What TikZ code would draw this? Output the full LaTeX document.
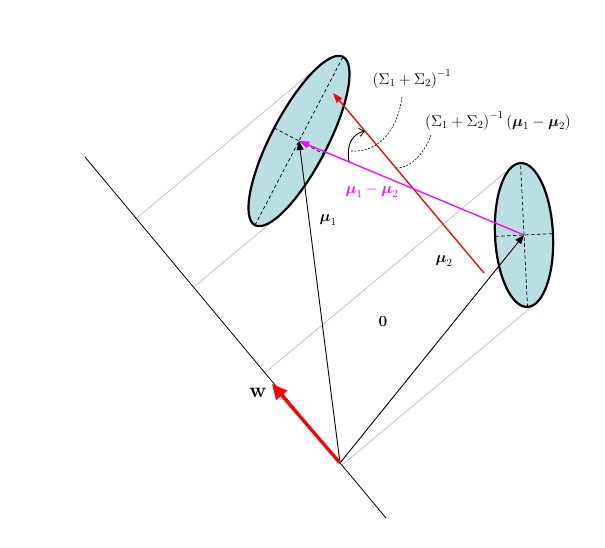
\RequirePackage{fix-cm}
\documentclass[tikz,border=0pt]{standalone}
\usepackage{amsmath}
\usetikzlibrary{arrows.meta,calc}
\definecolor{ellfill}{RGB}{185,223,227}
\definecolor{mag}{RGB}{255,0,255}
\definecolor{projgray}{RGB}{195,195,195}
\tikzset{
  ellbody/.style={draw=black, line width=2.2pt, fill=ellfill},
  ellaxis/.style={line width=0.7pt, dash pattern=on 3.5pt off 2.5pt},
  projline/.style={draw=projgray, line width=0.8pt},
  axisline/.style={line width=0.8pt},
  vecarrow/.style={line width=0.9pt, -{Triangle[length=9pt,width=7pt]}},
  lab/.style={font=\fontsize{15.5}{18}\selectfont, inner sep=0pt},
  leader/.style={line width=0.6pt, dash pattern=on 2pt off 1.5pt},
}
\begin{document}
\begin{tikzpicture}[x=1pt,y=-1pt]
\useasboundingbox (0,0) rectangle (605,548);
% key points
\coordinate (O) at (340,463);
\coordinate (A1) at (85,157);
\coordinate (A2) at (386,518);
\coordinate (M1) at (299,141);
\coordinate (M2) at (524,235);
% tangent points of the projection lines
\coordinate (T1a) at (320.6,64.7);
\coordinate (T1b) at (277.4,217.3);
\coordinate (T2a) at (512.2,166.6);
\coordinate (T2b) at (535.8,303.4);
\coordinate (F1a) at ($(A1)!(T1a)!(A2)$);
\coordinate (F1b) at ($(A1)!(T1b)!(A2)$);
\coordinate (F2a) at ($(A1)!(T2a)!(A2)$);
\coordinate (F2b) at ($(A1)!(T2b)!(A2)$);
% projection lines
\draw[projline] (F1a) -- (T1a);
\draw[projline] (F1b) -- (T1b);
\draw[projline] (F2a) -- (T2a);
\draw[projline] (F2b) -- (T2b);
% axis
\draw[axisline] (A1) -- (A2);
% ellipses
\begin{scope}[shift={(M1)}, rotate=62.4]
  \draw[ellbody] (0,0) ellipse [x radius=95, y radius=28];
  \draw[ellaxis] (-95,0) -- (95,0);
  \draw[ellaxis] (0,-28) -- (0,28);
\end{scope}
\begin{scope}[shift={(M2)}, rotate=92.8]
  \draw[ellbody] (0,0) ellipse [x radius=72, y radius=29];
  \draw[ellaxis] (-72,0) -- (72,0);
  \draw[ellaxis] (0,-29) -- (0,29);
\end{scope}
% red direction line
\coordinate (R0) at (484,273);
\coordinate (R1) at (333,93);
\draw[red, line width=1.3pt, -{Triangle[length=10pt,width=7pt]}] (R0) -- (R1);
% magenta difference vector
\draw[mag, line width=1.3pt, -{Triangle[length=10pt,width=7pt]}] (M2) -- (M1);
% mean vectors
\draw[vecarrow] (O) -- (M1);
\draw[vecarrow] (O) -- (M2);
% w
\coordinate (W) at (272,384);
\draw[red, line width=3.2pt, -{Triangle[length=15pt,width=14pt]}] (O) -- (W);
% rotation arrow
\coordinate (C0) at (349,162);
\coordinate (C1) at (365,131);
\draw[line width=0.9pt, -{Straight Barb[length=5pt,width=8pt]}] (C0) .. controls (346,143) and (353,134) .. (C1);
% labels
\node[lab] (lmu1) at (328,220) {$\boldsymbol{\mu}_1$};
\node[lab] (lmu2) at (444,261) {$\boldsymbol{\mu}_2$};
\node[lab] (lzero) at (383,322) {$\mathbf{0}$};
\node[lab, font=\fontsize{21}{24}\selectfont] (lw) at (258,393) {$\mathbf{w}$};
\node[lab, text=mag] (ldiff) at (372,191) {$\boldsymbol{\mu}_1-\boldsymbol{\mu}_2$};
\node[lab] (lsig) at (412,79) {$\left(\Sigma_1+\Sigma_2\right)^{-1}$};
\node[lab] (ldir) at (498,121) {$\left(\Sigma_1+\Sigma_2\right)^{-1}\left(\boldsymbol{\mu}_1-\boldsymbol{\mu}_2\right)$};
% leaders
\coordinate (D1s) at (402,97);
\coordinate (D1e) at (351,151);
\coordinate (D2s) at (431,135);
\coordinate (D2e) at (396,168);
\draw[leader] (D1s) .. controls (398,128) and (380,153) .. (D1e);
\draw[leader] (D2s) .. controls (425,152) and (412,168) .. (D2e);
\end{tikzpicture}
\end{document}
